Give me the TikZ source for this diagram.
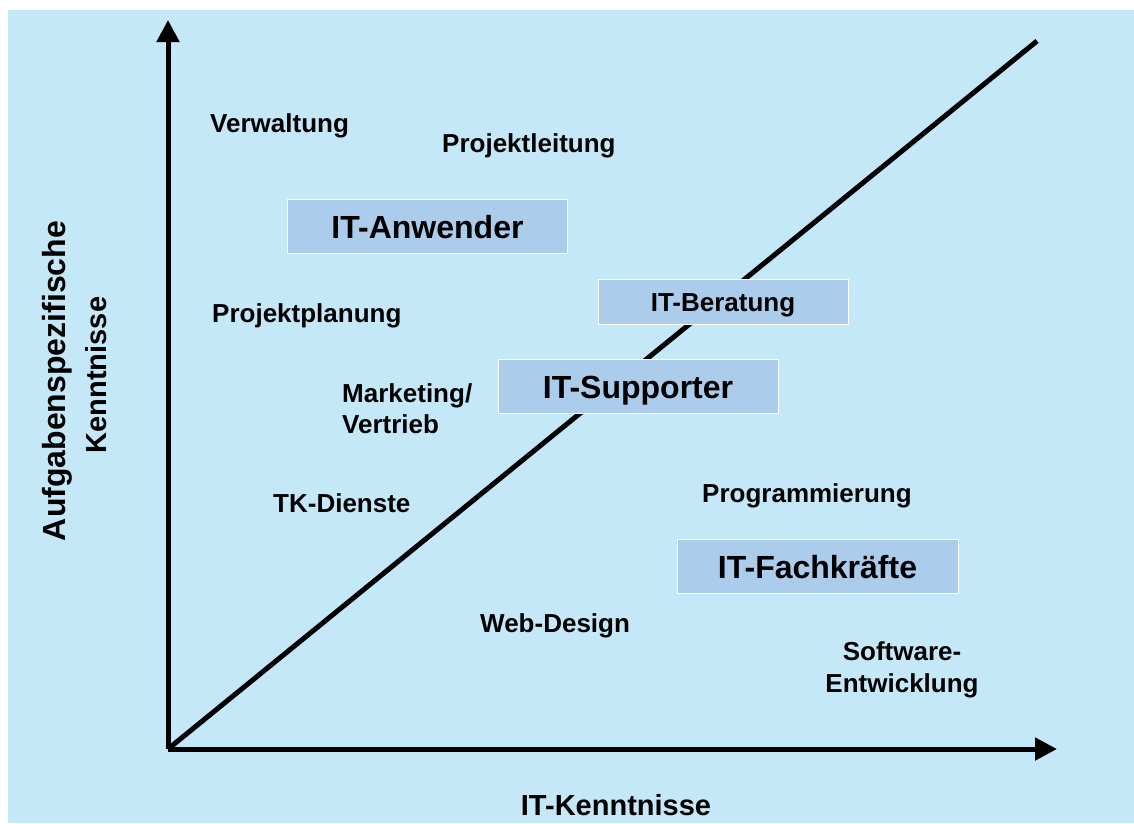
\documentclass[tikz,border=0pt]{standalone}
\usepackage{fontspec}
\setmainfont{Liberation Sans}
\usetikzlibrary{arrows.meta}
\definecolor{bgblue}{HTML}{C5E8F8}
\definecolor{boxblue}{HTML}{ABCCEB}
\begin{document}
\begin{tikzpicture}[x=1pt,y=-1pt,
  lbl/.style={font=\fontsize{26}{31}\selectfont\bfseries, inner sep=0pt},
  role/.style={draw=white, line width=1pt, fill=boxblue, inner sep=0pt,
    text height=23pt, text depth=0pt,
    font=\fontsize{32}{38}\selectfont\bfseries},
  axtitle/.style={font=\fontsize{29}{34}\selectfont\bfseries, inner sep=0pt},
  axis/.style={line width=5pt, -{Triangle[length=22pt,width=22pt]}}]
\useasboundingbox (0,0) rectangle (1134,823);
\fill[bgblue] (7.5,9.5) rectangle (1134,823);

\coordinate (O) at (168,749);
\coordinate (ytip) at (168,20);
\coordinate (xtip) at (1057,749);
\coordinate (dend) at (1037,41);

\draw[line width=5pt] (O) -- (dend);
\draw[axis] (O) -- (ytip);
\draw[axis] (O) -- (xtip);

% role boxes
\node[role, minimum width=280pt, minimum height=54pt] (anw) at (427.5,226.5) {IT-Anwender};
\node[role, minimum width=250pt, minimum height=45pt, text height=19pt, text depth=-2pt,
  font=\fontsize{26}{31}\selectfont\bfseries] (ber) at (723,301.5) {IT-Beratung};
\node[role, minimum width=280pt, minimum height=54pt] (sup) at (638,386.5) {IT-Supporter};
\node[role, minimum width=281pt, minimum height=54pt] (fach) at (817.5,566.5) {IT-Fachkräfte};

% labels
\node[lbl, anchor=base west] (verw) at (210,132) {Verwaltung};
\node[lbl, anchor=base west] (pleit) at (442,152) {Projektleitung};
\node[lbl, anchor=base west] (pplan) at (212,322) {Projektplanung};
\node[lbl, anchor=base west] (mark) at (342,402) {Marketing/};
\node[lbl, anchor=base west] (vert) at (342,433) {Vertrieb};
\node[lbl, anchor=base west] (tk) at (273,512) {TK-Dienste};
\node[lbl, anchor=base west] (prog) at (702,502) {Programmierung};
\node[lbl, anchor=base west] (web) at (480,632) {Web-Design};
\node[lbl, anchor=base] (soft) at (902,660) {Software-};
\node[lbl, anchor=base] (entw) at (902,692) {Entwicklung};

% axis titles
\node[axtitle, anchor=base] (xt) at (616,815) {IT-Kenntnisse};
\node[axtitle, anchor=base, rotate=90, font=\fontsize{32}{38}\selectfont\bfseries] (yt1) at (65,381) {Aufgabenspezifische};
\node[axtitle, anchor=base, rotate=90] (yt2) at (106,375) {Kenntnisse};
\end{tikzpicture}
\end{document}
